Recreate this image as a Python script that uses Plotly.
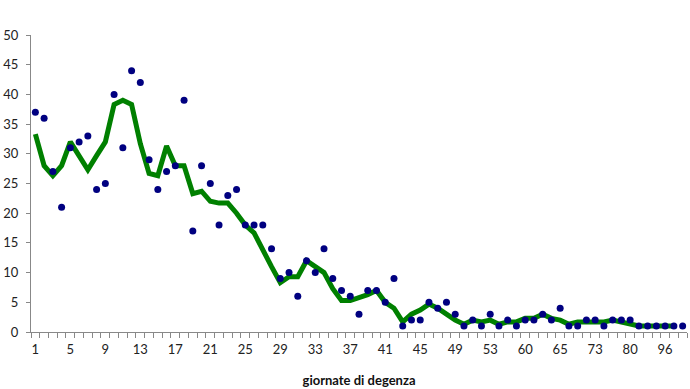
import plotly.graph_objects as go

# day categories (x axis); only every 4th is labelled
days = ["1","2","3","4","5","6","7","8","9","10","11","12","13","14","15","16","17","18","19","20",
        "21","22","23","24","25","26","27","28","29","30","31","32","33","34","35","36","37","38","39","40",
        "41","42","43","44","45","46","47","48","49","50","51","52","53","54","55","57","60","61","62","63",
        "65","67","70","71","73","75","77","78","80","82","85","90","96","100","110"]

# observed counts (dots)
counts = [37,36,27,21,31,32,33,24,25,40,31,44,42,29,24,27,28,39,17,28,
          25,18,23,24,18,18,18,14,9,10,6,12,10,14,9,7,6,3,7,7,
          5,9,1,2,2,5,4,5,3,1,2,1,3,1,2,1,2,2,3,2,
          4,1,1,2,2,1,2,2,2,1,1,1,1,1,1]

# smoothed line (green)
smooth = [33.3,28.0,26.3,28.0,32.0,29.7,27.3,29.7,32.0,38.3,39.0,38.3,31.7,26.7,26.3,31.3,28.0,28.0,23.3,23.7,
          22.0,21.7,21.7,20.0,18.0,16.7,13.7,11.0,8.3,9.3,9.3,12.0,11.0,10.0,7.3,5.3,5.3,5.7,6.3,7.0,
          5.0,4.0,1.7,3.0,3.7,4.7,4.0,3.0,2.0,1.3,2.0,1.7,2.0,1.3,1.7,1.7,2.3,2.3,3.0,2.3,
          2.0,1.3,1.7,1.7,1.7,1.7,2.0,1.7,1.3,1.0,1.0,1.0,1.0,1.0]

shown_labels = ["1","5","9","13","17","21","25","29","33","37","41","45","49","53","60","65","73","80","96"]
ticktext = [d if d in shown_labels else "" for d in days]

fig = go.Figure()
fig.add_trace(go.Scatter(x=days[:len(smooth)], y=smooth, mode="lines",
                         line=dict(color="#008000", width=5), showlegend=False))
fig.add_trace(go.Scatter(x=days, y=counts, mode="markers",
                         marker=dict(color="#000080", size=7), showlegend=False))

font_family = "Lato, 'Open Sans', sans-serif"
fig.update_layout(
    width=690, height=389,
    margin=dict(l=31, r=3, t=35, b=57, pad=0),
    plot_bgcolor="white", paper_bgcolor="white",
    font=dict(family=font_family, size=13, color="#222222"),
)
fig.update_xaxes(
    type="category", categoryorder="array", categoryarray=days,
    tickmode="array", tickvals=days, ticktext=ticktext, tickson="boundaries",
    tickangle=0, automargin=False, ticklabelstandoff=5,
    ticks="outside", ticklen=5, tickcolor="#888888", tickwidth=1,
    showline=True, linecolor="#888888", linewidth=1,
    showgrid=False, zeroline=False,
    title=dict(text="<b>giornate di degenza</b>", font=dict(size=13, color="#111111"), standoff=20),
    range=[-0.5, len(days) - 0.5],
)
fig.update_yaxes(
    range=[0, 50], dtick=5, tick0=0, automargin=False,
    ticks="outside", ticklen=4, tickcolor="#888888", ticklabelstandoff=5,
    showline=True, linecolor="#888888", linewidth=1,
    showgrid=False, zeroline=False,
)

fig.write_html("out.html", config={"displayModeBar": False},
               post_script="document.body.style.margin='0';")
